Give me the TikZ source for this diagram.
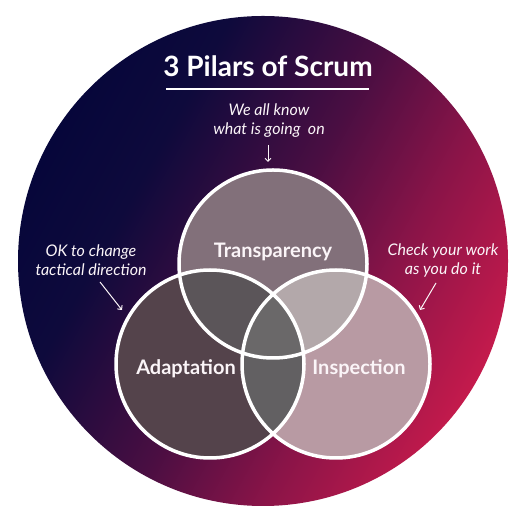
\documentclass[tikz,border=0pt]{standalone}
\usepackage{fontspec}
\setmainfont{Lato}
\usetikzlibrary{arrows.meta}

\definecolor{bgnavy}{HTML}{06063A}
\definecolor{bgnavyb}{HTML}{0E0A3C}
\definecolor{bgplum}{HTML}{4A0E42}
\definecolor{bgwine}{HTML}{8A1448}
\definecolor{bgred}{HTML}{C41A4C}
\definecolor{tfill}{HTML}{82707A}
\definecolor{lfill}{HTML}{54434B}
\definecolor{rfill}{HTML}{B89AA3}
\definecolor{tlfill}{HTML}{5B5559}
\definecolor{trfill}{HTML}{B3A8AA}
\definecolor{lrfill}{HTML}{626062}
\definecolor{cfill}{HTML}{6A6869}
\definecolor{txt}{HTML}{FBF5F8}

\pgfdeclarehorizontalshading{scrumbg}{100bp}{color(0bp)=(bgnavy); color(25bp)=(bgnavy); color(35bp)=(bgnavyb); color(50bp)=(bgplum); color(62bp)=(bgwine); color(75bp)=(bgred); color(100bp)=(bgred)}

\tikzset{
  pillar/.style={draw=white,line width=3.5bp},
  pillarlabel/.style={text=txt,font=\fontsize{20bp}{24bp}\selectfont\bfseries,anchor=base},
  remark/.style={text=txt,font=\fontsize{16bp}{19bp}\selectfont\itshape,align=center},
  pointer/.style={draw=txt,line width=1bp,-{Straight Barb[length=3pt,width=6pt]}}
}

\begin{document}
\begin{tikzpicture}[x=1bp,y=1bp]
            \useasboundingbox (0,0) rectangle (522,522);
            \shade[shading=scrumbg,shading angle=-29] (263,261) circle (245);

            \coordinate (tc) at (273,258);
            \coordinate (lc) at (210,158);
            \coordinate (rc) at (336,158);

            \fill[tfill] (tc) circle (94);
            \fill[lfill] (lc) circle (94);
            \fill[rfill] (rc) circle (94);
            \begin{scope}
                \clip (lc) circle (94);
                \fill[lrfill] (rc) circle (94);
            \end{scope}
            \begin{scope}
                \clip (tc) circle (94);
                \fill[tlfill] (lc) circle (94);
                \fill[trfill] (rc) circle (94);
                \clip (lc) circle (94);
                \fill[cfill] (rc) circle (94);
            \end{scope}
            \draw[pillar] (tc) circle (94) (lc) circle (94) (rc) circle (94);

            \node (title) at (268,445) [anchor=base,text=white,font=\fontsize{28bp}{32bp}\selectfont\bfseries] {3 Pilars of Scrum};
            \coordinate (ulA) at (166,433);
            \coordinate (ulB) at (369,433);
            \draw[white,line width=2bp] (ulA) -- (ulB);

            \node (transparency) at (273,264) [pillarlabel] {Transparency};
            \node (adaptation) at (186,147) [pillarlabel] {Adaptation};
            \node (inspection) at (359,147) [pillarlabel] {Inspection};

            \node (know) at (269,401) [remark] {We all know\\what is going\ \ on};
            \node (change) at (91,262) [remark] {OK to change\\tactical direction};
            \node (check) at (443,262) [remark] {Check your work\\as you do it};

            \coordinate (knowA) at (268,377);
            \coordinate (knowB) at (268,360);
            \coordinate (changeA) at (100,240);
            \coordinate (changeB) at (122,212);
            \coordinate (checkA) at (436,239);
            \coordinate (checkB) at (420,212);
            \draw[pointer] (knowA) -- (knowB);
            \draw[pointer] (changeA) -- (changeB);
            \draw[pointer] (checkA) -- (checkB);
        \end{tikzpicture}
\end{document}
